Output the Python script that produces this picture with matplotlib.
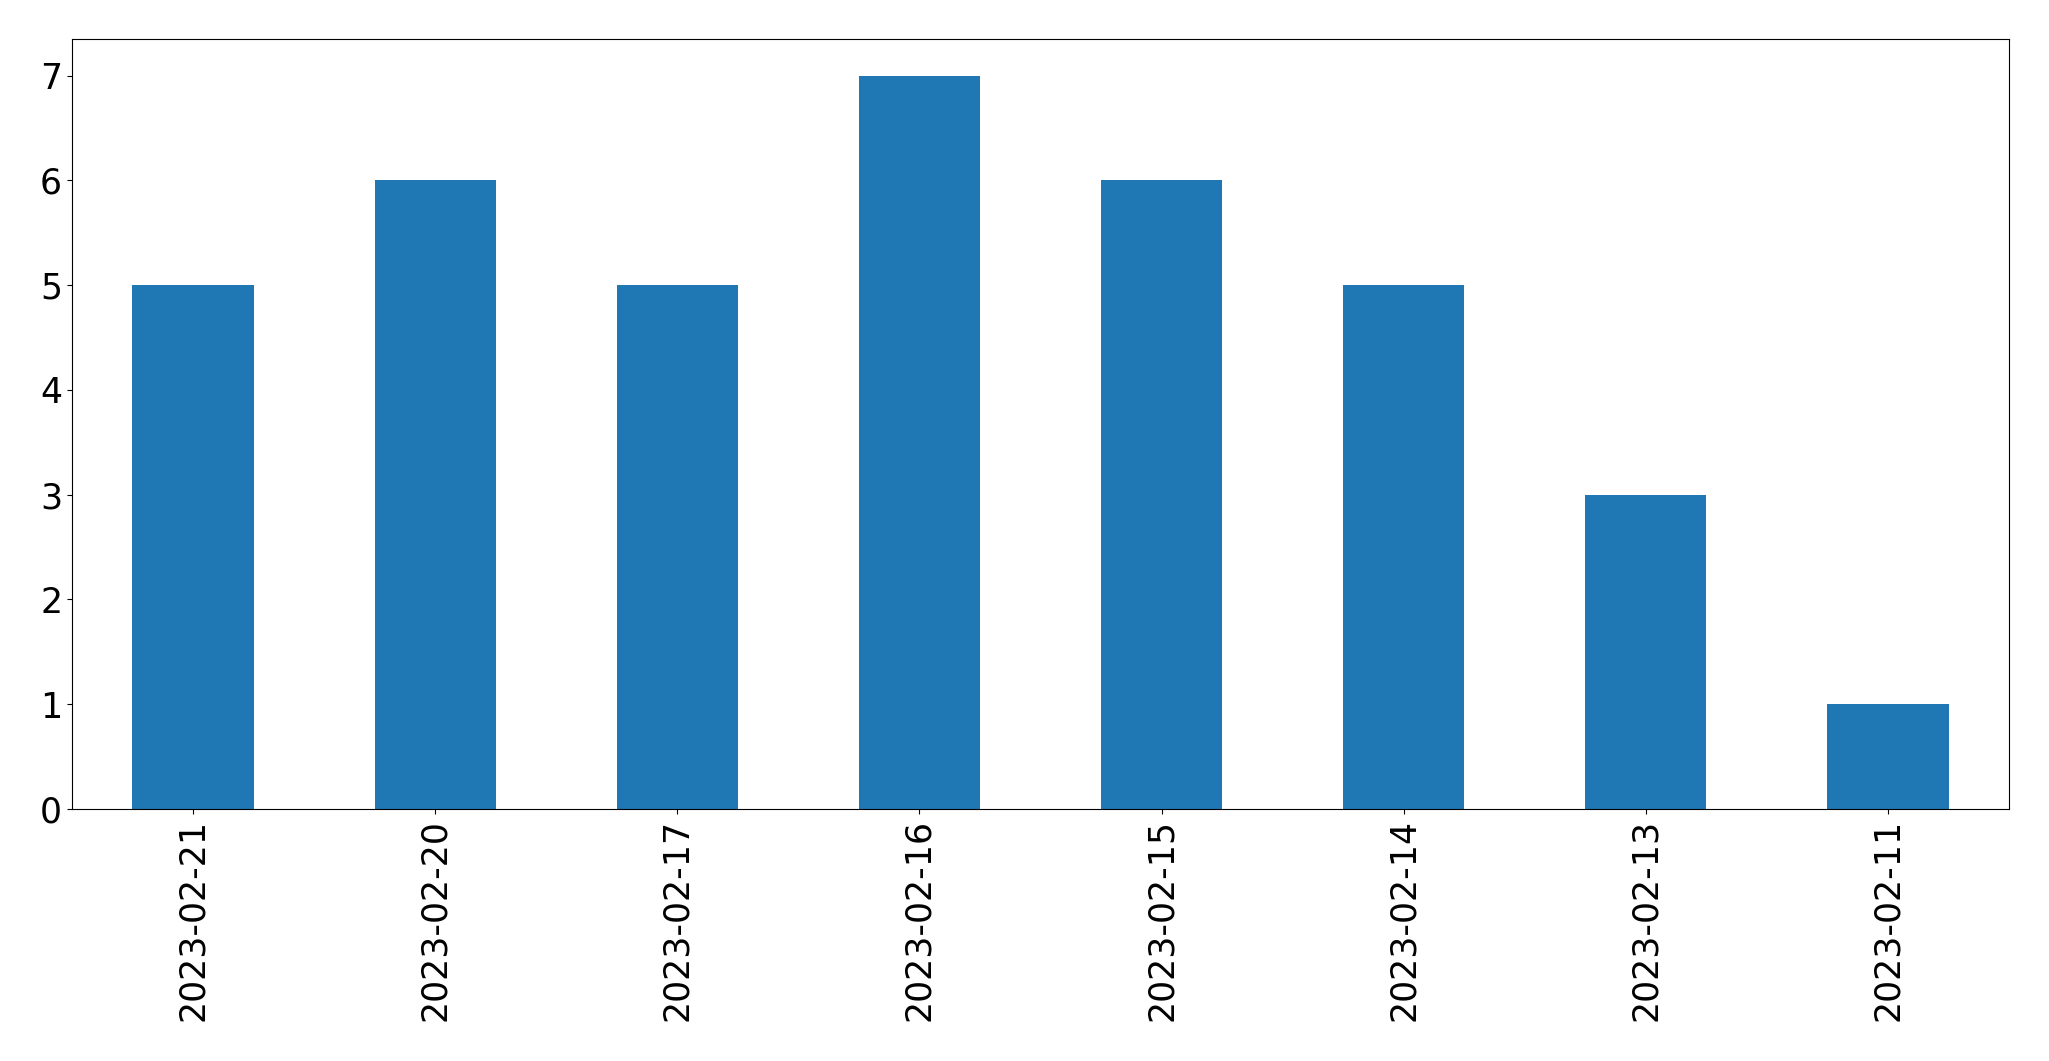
import matplotlib
matplotlib.use("Agg")
import matplotlib.pyplot as plt
import numpy as np

# Counts per day, in the order shown
dates = ['2023-02-21', '2023-02-20', '2023-02-17', '2023-02-16',
         '2023-02-15', '2023-02-14', '2023-02-13', '2023-02-11']
counts = [5, 6, 5, 7, 6, 5, 3, 1]

fig, ax = plt.subplots(figsize=(20.49, 10.61), dpi=100)
x = np.arange(len(dates))
ax.bar(x, counts, width=0.5, color='#1f77b4')
ax.set_xlim(-0.5, len(dates) - 0.5)
ax.set_xticks(x)
ax.set_xticklabels(dates, rotation=90)
ax.tick_params(axis='both', labelsize=25)
fig.subplots_adjust(left=0.0351, right=0.9805, top=0.9632, bottom=0.2375)
fig.savefig('out.png', dpi=100)
